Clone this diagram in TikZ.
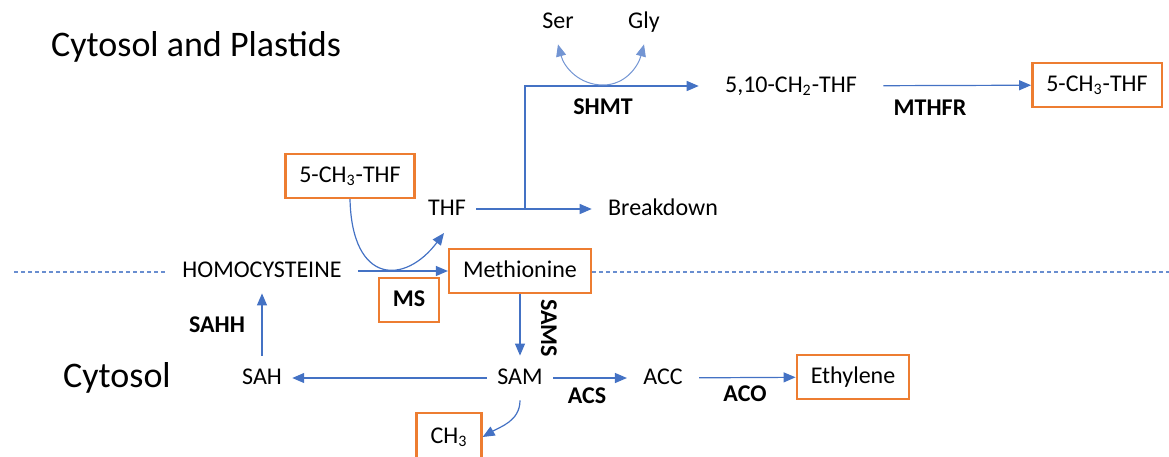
\documentclass[tikz,border=0pt]{standalone}
\usepackage{fontspec}
\setmainfont{Carlito}
\usetikzlibrary{arrows.meta}
\definecolor{flowblue}{HTML}{4472C4}
\definecolor{boxorange}{HTML}{ED7D31}
\begin{document}
\begin{tikzpicture}[x=0.5pt,y=-0.5pt,
  every node/.style={font=\fontsize{12}{14}\selectfont},
  metab/.style={inner xsep=5pt,inner ysep=5pt,text height=9pt,text depth=3pt},
  pool/.style={draw=boxorange,line width=1.2pt,minimum height=22pt,inner xsep=7pt,text height=9pt,text depth=3pt},
  enz/.style={font=\fontsize{12}{14}\selectfont\bfseries},
  region/.style={font=\fontsize{18}{22}\selectfont,anchor=west},
  flow/.style={draw=flowblue,line width=0.6pt},
  arr/.style={flow,-{Triangle[length=6pt,width=5pt]}},
  arc/.style={arr,draw=flowblue!75,line width=0.5pt},
  border/.style={draw=flowblue!80,line width=0.6pt,dash pattern=on 2pt off 1.5pt}]
  \useasboundingbox (0,0) rectangle (1169,456);
  % compartments
  \node[region] (cytpl) at (44,47) {Cytosol and Plastids};
  \node[region] (cyt) at (56,378) {Cytosol};
  % metabolites
  \node[metab] (ser) at (558,22) {Ser};
  \node[metab] (gly) at (644,22) {Gly};
  \node[metab,inner xsep=13pt] (ch2) at (791,86) {5,10-CH\textsubscript{2}-THF};
  \node[pool] (mthfR) at (1097,85) {5-CH\textsubscript{3}-THF};
  \node[pool] (mthfL) at (350,176) {5-CH\textsubscript{3}-THF};
  \node[metab] (thf) at (447,209) {THF};
  \node[metab,inner xsep=8pt] (brk) at (663,209) {Breakdown};
  \node[metab,inner xsep=8pt] (homo) at (262,271) {HOMOCYSTEINE};
  \node[pool] (meth) at (520,271) {Methionine};
  \node[metab] (sam) at (520,378) {SAM};
  \node[metab] (sah) at (262,378) {SAH};
  \node[metab,inner xsep=8pt] (acc) at (663,378) {ACC};
  \node[pool] (eth) at (853,377) {Ethylene};
  \node[pool,minimum height=24pt] (ch3) at (449,437) {CH\textsubscript{3}};
  % enzymes
  \node[pool,enz] (ms) at (409,300) {MS};
  \node[enz] (shmt) at (603,107) {SHMT};
  \node[enz] (mthfr) at (930,108) {MTHFR};
  \node[enz,rotate=-90] (sams) at (549,328) {SAMS};
  \node[enz] (sahh) at (217,325) {SAHH};
  \node[enz] (acs) at (587,396) {ACS};
  \node[enz] (aco) at (745,394) {ACO};
  % helper points
  \coordinate (j1) at (525,209);
  \coordinate (sg) at (603,85);
  \coordinate (thfin) at (444,233);
  \coordinate (dl) at (14,272);
  \coordinate (dr) at (1169,272);
  % compartment border
  \draw[border] (dl) -- (homo.west |- dl);
  \draw[border] (meth.east |- dr) -- (dr);
  % connectors
  \draw[arr] (thf) -- (brk);
  \draw[arr] (j1) |- (ch2);
  \draw[arr] (ch2) -- (mthfR);
  \draw[arc] (sg) to[out=180,in=-75] (ser.south);
  \draw[arc] (sg) to[out=0,in=-105] (gly.south);
  \draw[arr] (homo) -- (meth);
  \draw[arr] (mthfL.south) .. controls (352,285) and (405,285) .. (thfin);
  \draw[arr] (meth) -- (sam);
  \draw[arr] (sam) -- (sah);
  \draw[arr] (sah) -- (homo);
  \draw[arr] (sam) -- (acc);
  \draw[arr] (acc) -- (eth);
  \draw[arr] (sam.south) to[out=-90,in=30] (ch3.east);
\end{tikzpicture}
\end{document}
